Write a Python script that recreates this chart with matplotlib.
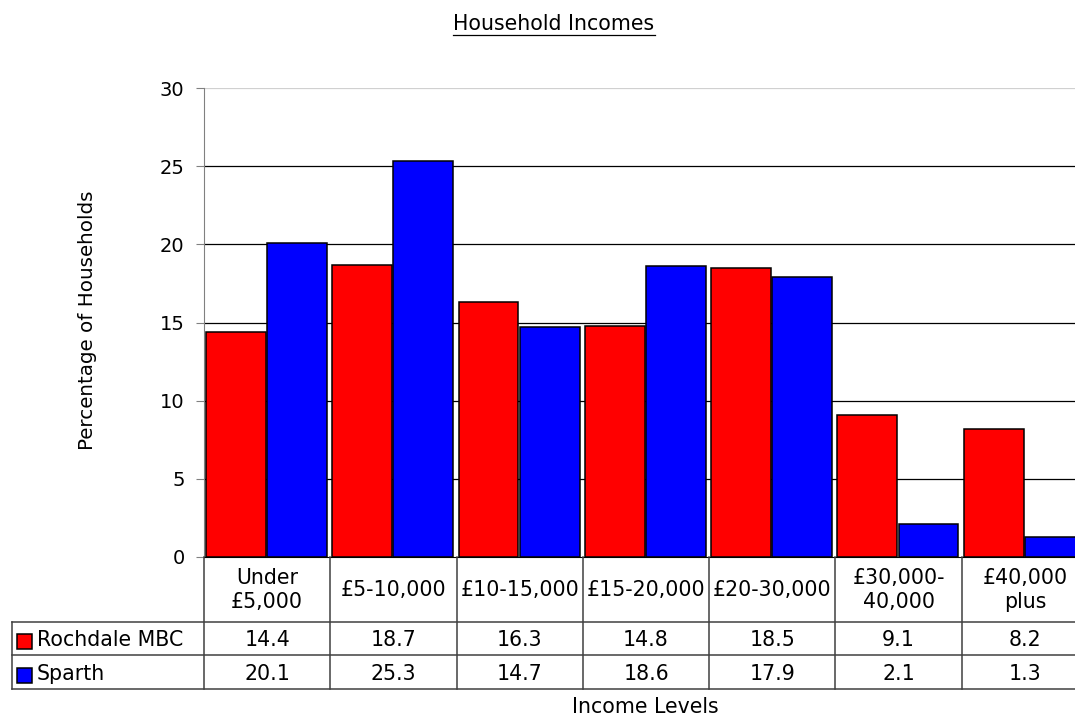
import matplotlib
matplotlib.use('Agg')
import matplotlib.pyplot as plt
from matplotlib.transforms import blended_transform_factory
from matplotlib.patches import Rectangle
from matplotlib.lines import Line2D

plt.rcParams['font.family'] = ['DejaVu Sans']

categories = ['Under\n£5,000', '£5-10,000', '£10-15,000', '£15-20,000',
              '£20-30,000', '£30,000-\n40,000', '£40,000\nplus']
series_names = ['Rochdale MBC', 'Sparth']
rochdale = [14.4, 18.7, 16.3, 14.8, 18.5, 9.1, 8.2]
sparth = [20.1, 25.3, 14.7, 18.6, 17.9, 2.1, 1.3]
colors = ['#ff0000', '#0000ff']
yticks = [0, 5, 10, 15, 20, 25, 30]

W, H = 1075, 716
FS = 14.8
fig = plt.figure(figsize=(W / 100, H / 100), dpi=100)


def fy(y):
    # pixel row (from top) -> figure fraction
    return 1 - y / H


ax = fig.add_axes([204 / W, fy(557), 884 / W, 469 / H])
n = len(categories)
xs = list(range(n))
bw = 0.474
ax.bar([x - 0.5 + 0.016 for x in xs], rochdale, width=bw, align='edge',
       color=colors[0], edgecolor='black', linewidth=1.1, zorder=3)
ax.bar([x - 0.5 + 0.5 for x in xs], sparth, width=bw, align='edge',
       color=colors[1], edgecolor='black', linewidth=1.1, zorder=3)

ax.set_xlim(-0.5, n - 0.5)
ax.set_ylim(0, 30)
ax.set_yticks(yticks)
ax.set_xticks([])
for y in yticks[1:-1]:
    ax.axhline(y, color='black', linewidth=0.9, zorder=1)
ax.axhline(30, color='#d0d0d0', linewidth=0.9, zorder=1)
for s in ['top', 'right']:
    ax.spines[s].set_visible(False)
ax.spines['left'].set_color('#808080')
ax.spines['bottom'].set_color('black')
ax.tick_params(axis='y', length=6, color='#808080', labelsize=14, pad=8)

# data table under the axis
tr = blended_transform_factory(ax.transData, fig.transFigure)
lc = '#404040'
for i in range(n + 1):
    fig.add_artist(Line2D([i - 0.5, i - 0.5], [fy(557), fy(689)],
                          transform=tr, color=lc, linewidth=1.1))
for yy in [622, 655, 689]:
    fig.add_artist(Line2D([12 / W, 1.02], [fy(yy), fy(yy)],
                          transform=fig.transFigure, color=lc, linewidth=1.1))
fig.add_artist(Line2D([12 / W, 12 / W], [fy(622), fy(689)],
                      transform=fig.transFigure, color=lc, linewidth=1.1))

for i, lab in enumerate(categories):
    fig.text(i, fy(590), lab, transform=tr, ha='center', va='center',
             fontsize=FS, linespacing=1.25)
    fig.text(i, fy(640), f'{rochdale[i]:.1f}', transform=tr,
             ha='center', va='center', fontsize=FS)
    fig.text(i, fy(673.5), f'{sparth[i]:.1f}', transform=tr,
             ha='center', va='center', fontsize=FS)

for k, (name, yc) in enumerate(zip(series_names, [641.5, 675.5])):
    fig.add_artist(Rectangle((17 / W, fy(yc + 7.5)), 15 / W, 15 / H,
                             transform=fig.transFigure, facecolor=colors[k],
                             edgecolor='black', linewidth=1.1))
    fig.text(37 / W, fy(yc - 1.5), name, ha='left', va='center', fontsize=FS)

fig.text(88 / W, fy(320), 'Percentage of Households', rotation=90,
         ha='center', va='center', fontsize=14.3)
fig.text(645 / W, fy(707), 'Income Levels', ha='center', va='center',
         fontsize=FS)

title = fig.text(554 / W, fy(24), 'Household Incomes', ha='center',
                 va='center', fontsize=FS)
fig.canvas.draw()
bb = title.get_window_extent()
fig.add_artist(Line2D([bb.x0 / W, bb.x1 / W], [fy(35), fy(35)],
                      transform=fig.transFigure, color='black', linewidth=0.9))

fig.savefig('out.png', dpi=100)
